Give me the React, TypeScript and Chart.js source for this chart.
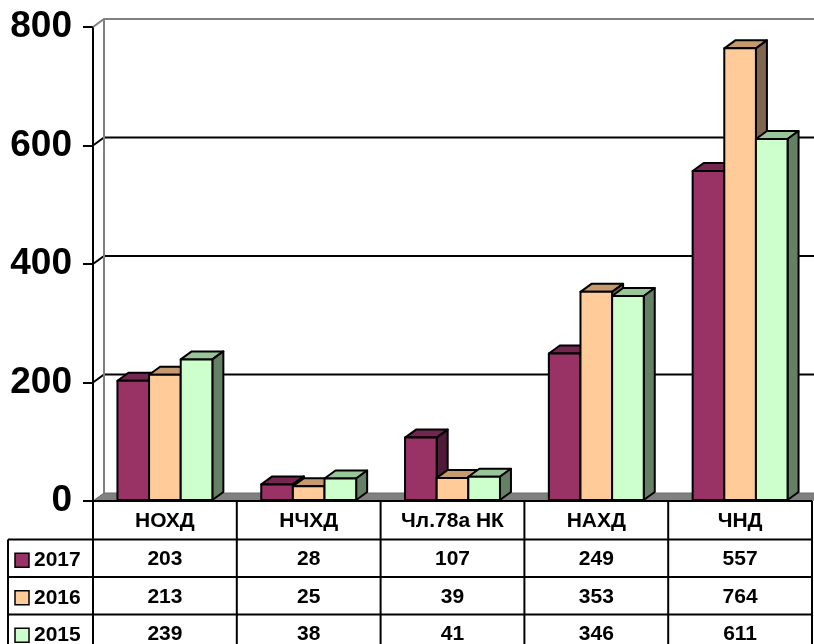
import React, { useEffect, useRef } from 'react';
import { Chart, registerables } from 'chart.js';

Chart.register(...registerables);

const categories = ['НОХД', 'НЧХД', 'Чл.78а НК', 'НАХД', 'ЧНД'];
const seriesNames = ['2017', '2016', '2015'];
const values2017 = [203, 28, 107, 249, 557];
const values2016 = [213, 25, 39, 353, 764];
const values2015 = [239, 38, 41, 346, 611];
const yTicks = [0, 200, 400, 600, 800];

const FRONT = ['#993366', '#FFCC99', '#CCFFCC'];
const TOP = ['#732650', '#C49A6E', '#99C699'];
const SIDE = ['#4F1B38', '#80664A', '#668066'];

const DX = 11;
const DY = -8;
const TABLE_FONT = 'bold 21px "Liberation Sans", Arial, sans-serif';
const HEADER_H = 38.5;
const ROW_H = 37.5;
const LEGEND_LEFT = 8;

const threeD = {
  id: 'threeD',
  beforeDatasetsDraw(chart: any) {
    const ctx = chart.ctx;
    const { left, top, bottom } = chart.chartArea;
    const y = chart.scales.y;
    const W = chart.width + 20;
    ctx.save();
    // floor
    ctx.fillStyle = '#808080';
    ctx.beginPath();
    ctx.moveTo(left, bottom);
    ctx.lineTo(left + DX, bottom + DY);
    ctx.lineTo(W, bottom + DY);
    ctx.lineTo(W, bottom);
    ctx.closePath();
    ctx.fill();
    ctx.strokeStyle = '#6a6a6a';
    ctx.lineWidth = 1;
    ctx.beginPath();
    ctx.moveTo(left, bottom);
    ctx.lineTo(left + DX, bottom + DY);
    ctx.lineTo(W, bottom + DY);
    ctx.stroke();
    // gridlines on back wall
    ctx.lineWidth = 2;
    for (const v of yTicks) {
      if (v === 0) continue;
      const py = y.getPixelForValue(v);
      ctx.strokeStyle = v === 800 ? '#808080' : '#000000';
      ctx.beginPath();
      ctx.moveTo(left, py);
      ctx.lineTo(left + DX, py + DY);
      ctx.lineTo(W, py + DY);
      ctx.stroke();
    }
    // back-left wall edge
    ctx.strokeStyle = '#808080';
    ctx.beginPath();
    ctx.moveTo(left + DX, top + DY);
    ctx.lineTo(left + DX, bottom + DY);
    ctx.stroke();
    ctx.restore();
  },
  afterDatasetsDraw(chart: any) {
    const ctx = chart.ctx;
    ctx.save();
    ctx.lineWidth = 2;
    ctx.lineJoin = 'round';
    ctx.strokeStyle = '#000000';
    const nDs = chart.data.datasets.length;
    for (let i = 0; i < categories.length; i++) {
      for (let d = 0; d < nDs; d++) {
        const el = chart.getDatasetMeta(d).data[i];
        const { x, y, base, width } = el.getProps(['x', 'y', 'base', 'width'], true);
        const x0 = x - width / 2;
        const x1 = x + width / 2;
        // top face
        ctx.fillStyle = TOP[d];
        ctx.beginPath();
        ctx.moveTo(x0, y);
        ctx.lineTo(x0 + DX, y + DY);
        ctx.lineTo(x1 + DX, y + DY);
        ctx.lineTo(x1, y);
        ctx.closePath();
        ctx.fill();
        ctx.stroke();
        // side face
        ctx.fillStyle = SIDE[d];
        ctx.beginPath();
        ctx.moveTo(x1, y);
        ctx.lineTo(x1 + DX, y + DY);
        ctx.lineTo(x1 + DX, base + DY);
        ctx.lineTo(x1, base);
        ctx.closePath();
        ctx.fill();
        ctx.stroke();
        // front face
        ctx.fillStyle = FRONT[d];
        ctx.fillRect(x0, y, width, base - y);
        ctx.strokeRect(x0, y, width, base - y);
      }
    }
    ctx.restore();
  },
  afterDraw(chart: any) {
    const ctx = chart.ctx;
    const { left, right, bottom } = chart.chartArea;
    const n = categories.length;
    const cw = (right - left) / n;
    const tableBottom = bottom + HEADER_H + ROW_H * 3 + 10;
    const line = (ax: number, ay: number, bx: number, by: number) => {
      ctx.beginPath();
      ctx.moveTo(ax, ay);
      ctx.lineTo(bx, by);
      ctx.stroke();
    };
    ctx.save();
    ctx.strokeStyle = '#000000';
    ctx.lineWidth = 2;
    line(left, bottom, right, bottom);
    for (let k = 0; k <= n; k++) {
      const x = left + k * cw;
      line(x, bottom, x, tableBottom);
    }
    for (let r = 0; r < 3; r++) {
      const yy = bottom + HEADER_H + r * ROW_H;
      line(LEGEND_LEFT, yy, right, yy);
    }
    line(LEGEND_LEFT, bottom + HEADER_H, LEGEND_LEFT, tableBottom);

    ctx.font = TABLE_FONT;
    ctx.fillStyle = '#000000';
    ctx.textAlign = 'center';
    ctx.textBaseline = 'middle';
    categories.forEach((c, k) => {
      ctx.fillText(c, left + (k + 0.5) * cw, bottom + HEADER_H / 2 + 1);
    });
    const rows = [values2017, values2016, values2015];
    rows.forEach((vals, r) => {
      const cy = bottom + HEADER_H + (r + 0.5) * ROW_H + 1;
      vals.forEach((v, k) => {
        ctx.fillText(String(v), left + (k + 0.5) * cw, cy);
      });
    });
    // legend keys
    ctx.textAlign = 'left';
    seriesNames.forEach((s, r) => {
      const cy = bottom + HEADER_H + (r + 0.5) * ROW_H + 2;
      ctx.fillStyle = FRONT[r];
      ctx.fillRect(15, cy - 7, 14, 14);
      ctx.lineWidth = 1.5;
      ctx.strokeRect(15, cy - 7, 14, 14);
      ctx.fillStyle = '#000000';
      ctx.fillText(s, 34, cy);
    });
    ctx.restore();
  },
};

export default function App() {
  const ref = useRef<HTMLCanvasElement | null>(null);
  useEffect(() => {
    if (!ref.current) return;
    const chart = new Chart(ref.current, {
      type: 'bar',
      data: {
        labels: categories,
        datasets: [
          { label: seriesNames[0], data: values2017, backgroundColor: FRONT[0], borderWidth: 0 },
          { label: seriesNames[1], data: values2016, backgroundColor: FRONT[1], borderWidth: 0 },
          { label: seriesNames[2], data: values2015, backgroundColor: FRONT[2], borderWidth: 0 },
        ],
      },
      options: {
        responsive: false,
        animation: false,
        datasets: { bar: { categoryPercentage: 0.66, barPercentage: 1 } },
        layout: { padding: { left: 0, right: 2, top: 27, bottom: 143 } },
        plugins: { legend: { display: false }, tooltip: { enabled: false } },
        scales: {
          x: { display: false, offset: true },
          y: {
            min: 0,
            max: 800,
            afterFit: (scale: any) => {
              scale.width = 93;
              scale.paddingTop = 0;
              scale.paddingBottom = 0;
            },
            afterBuildTicks: (scale: any) => {
              scale.ticks = yTicks.map((v) => ({ value: v }));
            },
            ticks: {
              color: '#000000',
              padding: 11,
              font: { family: '"Liberation Sans", Arial, sans-serif', size: 37, weight: 'bold' },
            },
            grid: { drawOnChartArea: false, drawTicks: true, tickLength: 10, color: '#000000', lineWidth: 2 },
            border: { display: true, color: '#000000', width: 2 },
          },
        },
      },
      plugins: [threeD],
    });
    return () => chart.destroy();
  }, []);
  return (
    <div style={{ position: 'absolute', left: 0, top: 0, width: 814, height: 644, background: '#fff' }}>
      <canvas ref={ref} width={814} height={644} />
    </div>
  );
}
